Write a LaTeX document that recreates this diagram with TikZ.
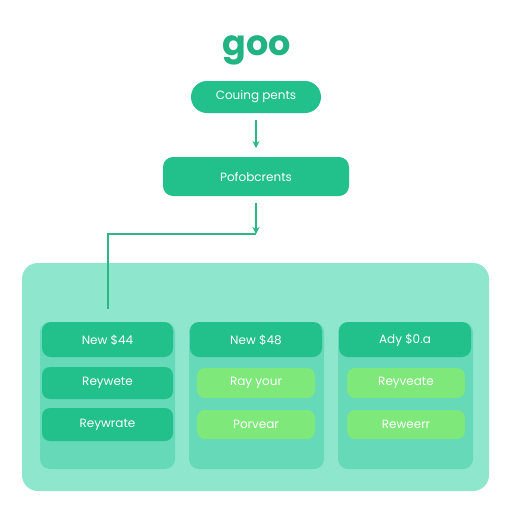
\documentclass[tikz,border=0pt]{standalone}
\usepackage{fontspec}
\setmainfont{Poppins}
\usetikzlibrary{arrows.meta}
\definecolor{dgreen}{HTML}{22C08A}
\definecolor{tgreen}{HTML}{22B383}
\definecolor{panel}{HTML}{8EE6CD}
\definecolor{colbg}{HTML}{66D9B8}
\definecolor{lgreen}{HTML}{7EE87A}
\definecolor{lineg}{HTML}{2BB882}
\tikzset{
  lbl/.style={text=white, font=\fontsize{12}{14}\selectfont},
  toplbl/.style={text=white, font=\fontsize{12}{14}\selectfont},
  conn/.style={draw=lineg, line width=1.3pt, -{Stealth[length=7pt,width=7pt]}},
  plain/.style={draw=lineg, line width=1.3pt}
}
\begin{document}
\begin{tikzpicture}[x=1pt,y=-1pt]
\useasboundingbox (0,0) rectangle (512,512);
\fill[white] (0,0) rectangle (512,512);
% title
\node[text=tgreen, font=\fontsize{35}{37}\selectfont\bfseries] (title) at (257,50) {goo};
% top boxes
\fill[dgreen, rounded corners=16pt] (191,81) rectangle (321,113);
\node[toplbl] (b1) at (256,97) {Couing pents};
\fill[dgreen, rounded corners=10pt] (163,157) rectangle (349,196);
\node[toplbl] (b2) at (256,176.5) {Pofobcrents};
\coordinate (b1s) at (256,120);
\coordinate (b2n) at (256,148);
\coordinate (b2s) at (256,203);
\coordinate (jn) at (256,234);
\coordinate (jl) at (108,234);
\coordinate (jend) at (108,309);
\draw[conn] (b1s) -- (b2n);
\draw[conn] (b2s) -- (jn);
\draw[plain] (jn) -- (jl) -- (jend);
% panel
\fill[panel, rounded corners=16pt] (22,263) rectangle (489,491);
\draw[plain] (108,263) -- (jend);
% columns
\fill[colbg, rounded corners=10pt] (40,322) rectangle (175,469);
\fill[colbg, rounded corners=10pt] (189,322) rectangle (324,469);
\fill[colbg, rounded corners=10pt] (338,322) rectangle (473,469);
% headers
\fill[dgreen, rounded corners=9pt] (42,322) rectangle (173,357);
\fill[dgreen, rounded corners=9pt] (190,322) rectangle (322,357);
\fill[dgreen, rounded corners=9pt] (339,322) rectangle (471,357);
\node[lbl] (h1) at (107.5,340) {New \$44};
\node[lbl] (h2) at (256,340) {New \$48};
\node[lbl] (h3) at (405,340) {Ady \$0.a};
% col 1 rows
\fill[dgreen, rounded corners=8pt] (42,367) rectangle (173,399);
\fill[dgreen, rounded corners=8pt] (42,408) rectangle (173,441);
\node[lbl] (r11) at (107.5,383) {Reywete};
\node[lbl] (r12) at (107.5,424.5) {Reywrate};
% col 2 rows
\fill[lgreen, rounded corners=8pt] (197,368) rectangle (315,398);
\fill[lgreen, rounded corners=8pt] (197,410) rectangle (315,439);
\node[lbl] (r21) at (256,383) {Ray your};
\node[lbl] (r22) at (256,424.5) {Porvear};
% col 3 rows
\fill[lgreen, rounded corners=8pt] (347,368) rectangle (465,398);
\fill[lgreen, rounded corners=8pt] (347,410) rectangle (465,439);
\node[lbl] (r31) at (406,383) {Reyveate};
\node[lbl] (r32) at (406,424.5) {Reweerr};
\end{tikzpicture}
\end{document}
